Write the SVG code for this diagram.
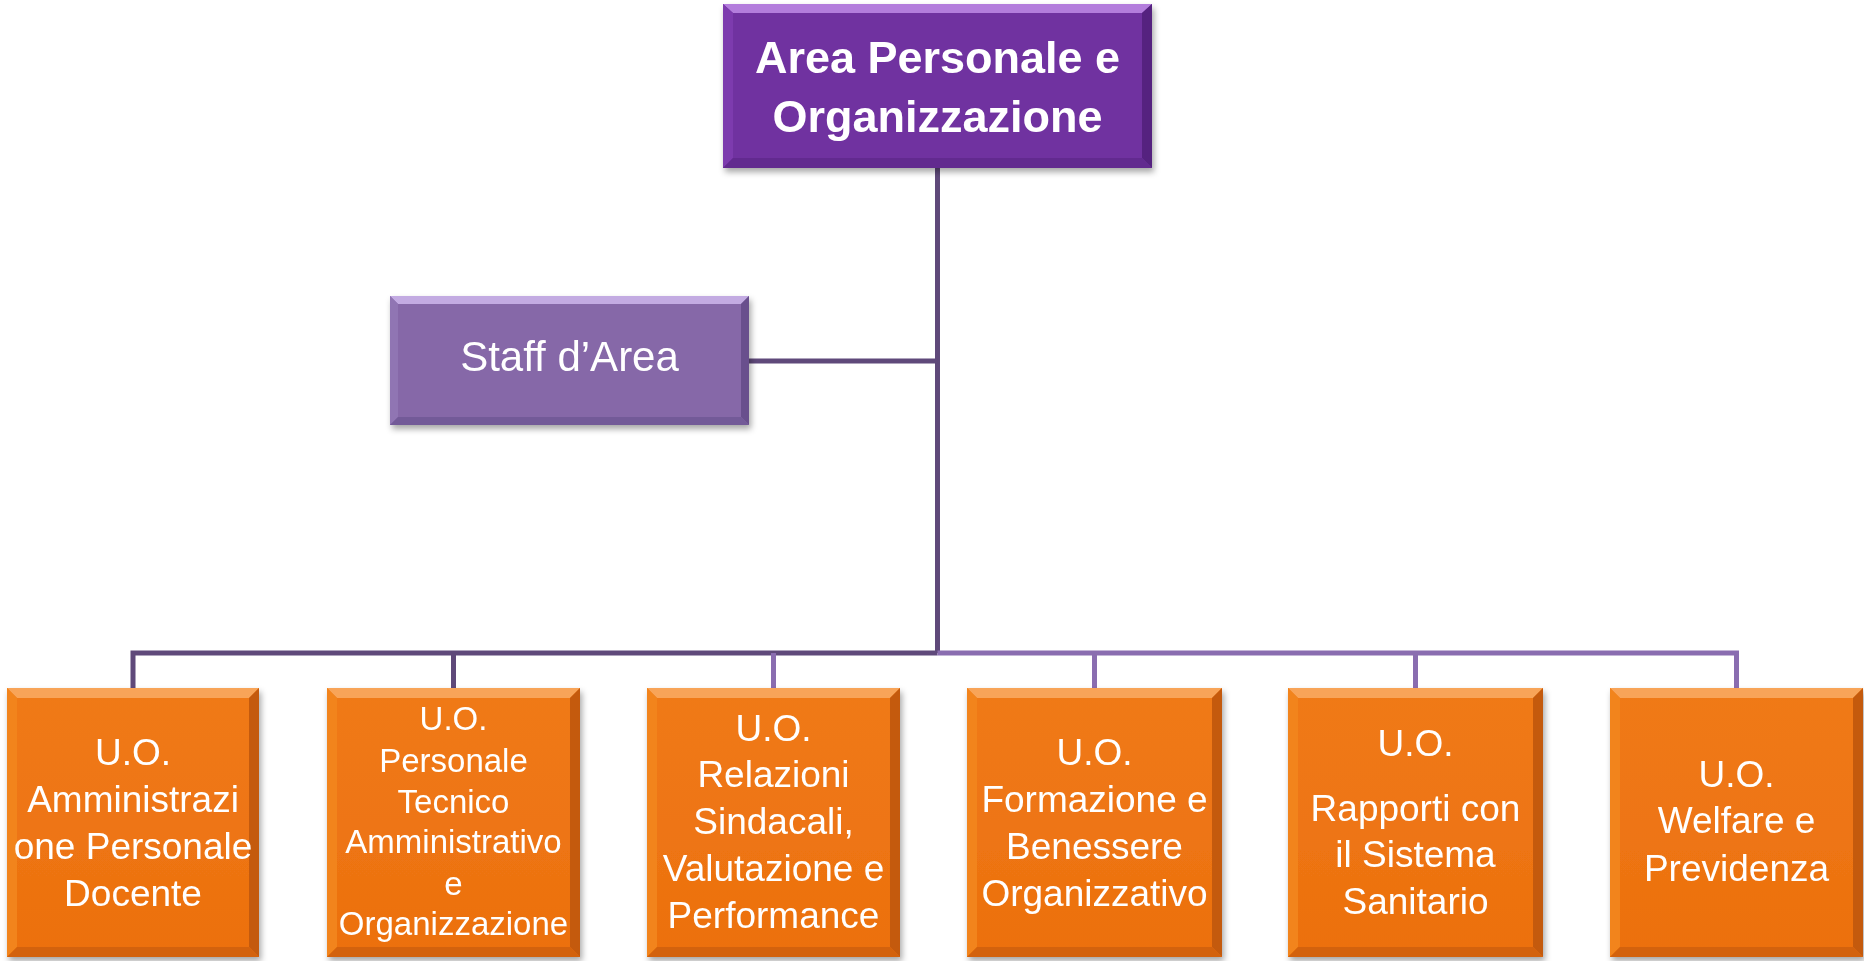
<svg xmlns="http://www.w3.org/2000/svg" width="1864" height="961" viewBox="0 0 1864 961">
<style>
.t{font-family:"Liberation Sans",Arial,sans-serif;fill:#ffffff;text-anchor:middle}
.tt{font-size:45px;font-weight:bold}
.ts{font-size:42px}
.tb{font-size:37px}
.tb2{font-size:33px}
.cd{stroke:#5f497a;stroke-width:5;fill:none}
.cl{stroke:#8a6db0;stroke-width:5;fill:none}
.o-base{fill:#ee7210}.o-top{fill:#f8a458}.o-left{fill:#f2841f}.o-right{fill:#c45a0a}.o-bot{fill:#d3620b}
.p-base{fill:#7030a0}.p-top{fill:#b37ddc}.p-left{fill:#7d3bae}.p-right{fill:#55237f}.p-bot{fill:#622a8f}
.s-base{fill:#8668a8}.s-top{fill:#c3abe2}.s-left{fill:#9075b3}.s-right{fill:#69508d}.s-bot{fill:#735a98}
</style>
<defs>
<filter id="sh" x="-10%" y="-10%" width="125%" height="130%">
<feDropShadow dx="2" dy="4" stdDeviation="3" flood-color="#000" flood-opacity="0.35"/>
</filter>
<linearGradient id="og" x1="0" y1="0" x2="0" y2="1">
<stop offset="0" stop-color="#f07a18"/><stop offset="1" stop-color="#ec700e"/>
</linearGradient>
</defs>

<g id="connectors">
<path class="cd" d="M937.5 168 V653"/>
<path class="cd" d="M749 361 H937.5"/>
<path class="cd" d="M937.5 653 H133 V688"/>
<path class="cd" d="M453.5 653 V688"/>
<path class="cl" d="M937.5 653 H1736.5 V688"/>
<path class="cl" d="M773.5 653 V688"/>
<path class="cl" d="M1094.5 653 V688"/>
<path class="cl" d="M1415.5 653 V688"/>
</g>

<g id="node-area" filter="url(#sh)">
<rect class="p-base" x="723" y="4" width="429" height="164"/>
<polygon class="p-top" points="723,4 1152,4 1142,13 733,13"/>
<polygon class="p-left" points="723,4 733,13 733,158 723,168"/>
<polygon class="p-right" points="1152,4 1152,168 1142,158 1142,13"/>
<polygon class="p-bot" points="723,168 733,158 1142,158 1152,168"/>
<text class="t tt" x="937.5" y="73">Area Personale e</text>
<text class="t tt" x="937.5" y="132">Organizzazione</text>
</g>

<g id="node-staff" filter="url(#sh)">
<rect class="s-base" x="390" y="296" width="359" height="129"/>
<polygon class="s-top" points="390,296 749,296 741,304 398,304"/>
<polygon class="s-left" points="390,296 398,304 398,417 390,425"/>
<polygon class="s-right" points="749,296 749,425 741,417 741,304"/>
<polygon class="s-bot" points="390,425 398,417 741,417 749,425"/>
<text class="t ts" x="569.5" y="371">Staff d’Area</text>
</g>

<g id="node-uo1" filter="url(#sh)">
<rect fill="url(#og)" x="7" y="688" width="252" height="269"/>
<polygon class="o-top" points="7,688 259,688 249,698 17,698"/>
<polygon class="o-left" points="7,688 17,698 17,947 7,957"/>
<polygon class="o-right" points="259,688 259,957 249,947 249,698"/>
<polygon class="o-bot" points="7,957 17,947 249,947 259,957"/>
<text class="t tb" x="133" y="765">U.O.</text>
<text class="t tb" x="133" y="812">Amministrazi</text>
<text class="t tb" x="133" y="859">one Personale</text>
<text class="t tb" x="133" y="906">Docente</text>
</g>

<g id="node-uo2" filter="url(#sh)">
<rect fill="url(#og)" x="327" y="688" width="253" height="269"/>
<polygon class="o-top" points="327,688 580,688 570,698 337,698"/>
<polygon class="o-left" points="327,688 337,698 337,947 327,957"/>
<polygon class="o-right" points="580,688 580,957 570,947 570,698"/>
<polygon class="o-bot" points="327,957 337,947 570,947 580,957"/>
<text class="t tb2" x="453.5" y="730">U.O.</text>
<text class="t tb2" x="453.5" y="772">Personale</text>
<text class="t tb2" x="453.5" y="813">Tecnico</text>
<text class="t tb2" x="453.5" y="853">Amministrativo</text>
<text class="t tb2" x="453.5" y="895">e</text>
<text class="t tb2" x="453.5" y="935">Organizzazione</text>
</g>

<g id="node-uo3" filter="url(#sh)">
<rect fill="url(#og)" x="647" y="688" width="253" height="269"/>
<polygon class="o-top" points="647,688 900,688 890,698 657,698"/>
<polygon class="o-left" points="647,688 657,698 657,947 647,957"/>
<polygon class="o-right" points="900,688 900,957 890,947 890,698"/>
<polygon class="o-bot" points="647,957 657,947 890,947 900,957"/>
<text class="t tb" x="773.5" y="741">U.O.</text>
<text class="t tb" x="773.5" y="787">Relazioni</text>
<text class="t tb" x="773.5" y="834">Sindacali,</text>
<text class="t tb" x="773.5" y="881">Valutazione e</text>
<text class="t tb" x="773.5" y="928">Performance</text>
</g>

<g id="node-uo4" filter="url(#sh)">
<rect fill="url(#og)" x="967" y="688" width="255" height="269"/>
<polygon class="o-top" points="967,688 1222,688 1212,698 977,698"/>
<polygon class="o-left" points="967,688 977,698 977,947 967,957"/>
<polygon class="o-right" points="1222,688 1222,957 1212,947 1212,698"/>
<polygon class="o-bot" points="967,957 977,947 1212,947 1222,957"/>
<text class="t tb" x="1094.5" y="765">U.O.</text>
<text class="t tb" x="1094.5" y="812">Formazione e</text>
<text class="t tb" x="1094.5" y="859">Benessere</text>
<text class="t tb" x="1094.5" y="906">Organizzativo</text>
</g>

<g id="node-uo5" filter="url(#sh)">
<rect fill="url(#og)" x="1288" y="688" width="255" height="269"/>
<polygon class="o-top" points="1288,688 1543,688 1533,698 1298,698"/>
<polygon class="o-left" points="1288,688 1298,698 1298,947 1288,957"/>
<polygon class="o-right" points="1543,688 1543,957 1533,947 1533,698"/>
<polygon class="o-bot" points="1288,957 1298,947 1533,947 1543,957"/>
<text class="t tb" x="1415.5" y="756">U.O.</text>
<text class="t tb" x="1415.5" y="821">Rapporti con</text>
<text class="t tb" x="1415.5" y="867">il Sistema</text>
<text class="t tb" x="1415.5" y="914">Sanitario</text>
</g>

<g id="node-uo6" filter="url(#sh)">
<rect fill="url(#og)" x="1610" y="688" width="253" height="269"/>
<polygon class="o-top" points="1610,688 1863,688 1853,698 1620,698"/>
<polygon class="o-left" points="1610,688 1620,698 1620,947 1610,957"/>
<polygon class="o-right" points="1863,688 1863,957 1853,947 1853,698"/>
<polygon class="o-bot" points="1610,957 1620,947 1853,947 1863,957"/>
<text class="t tb" x="1736.5" y="787">U.O.</text>
<text class="t tb" x="1736.5" y="833">Welfare e</text>
<text class="t tb" x="1736.5" y="881">Previdenza</text>
</g>
</svg>
